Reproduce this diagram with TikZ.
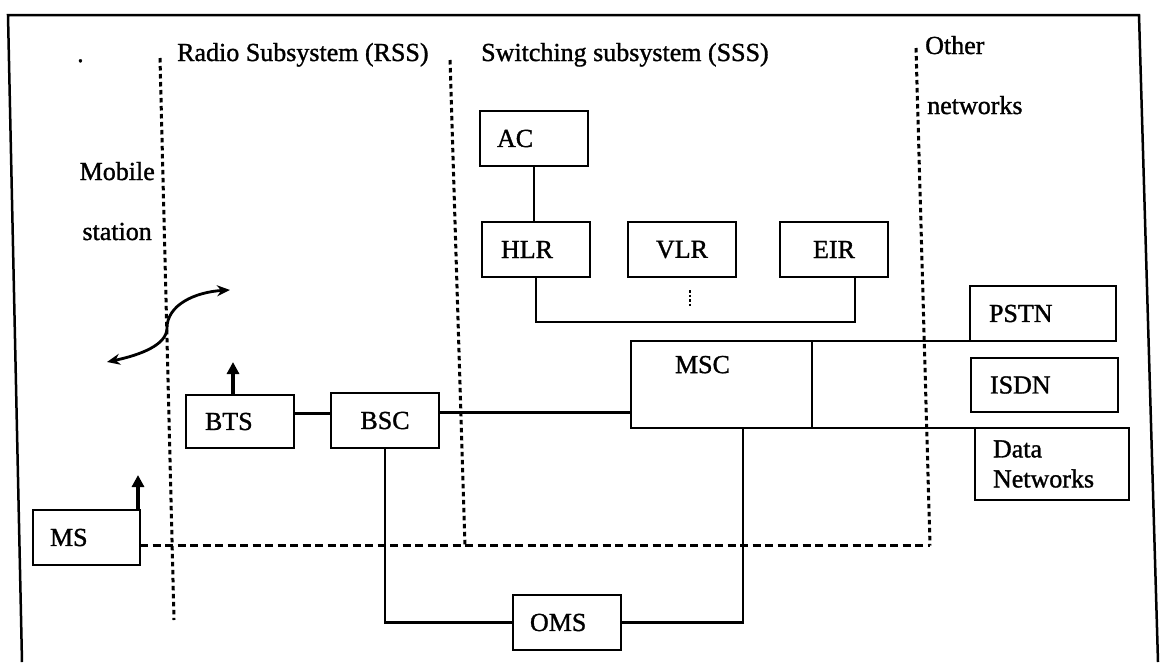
\documentclass[tikz,border=0pt]{standalone}
\usepackage{fontspec}
\setmainfont{Liberation Serif}[FakeBold=1.2]
\usetikzlibrary{arrows.meta,calc}
\tikzset{
  framel/.style={line width=2.5pt},
  sepline/.style={line width=3pt, dash pattern=on 4.5pt off 3.5pt},
  wire/.style={line width=2.4pt},
  link/.style={line width=2.6pt, dash pattern=on 8pt off 4.5pt},
  box/.style={draw, line width=2.5pt, inner ysep=0pt, outer sep=0pt, minimum height=55pt},
  cbox/.style={box, inner xsep=0pt, minimum width=108pt, align=center},
  txt/.style={inner sep=0pt, anchor=base west},
  rtxt/.style={inner sep=0pt, anchor=base east},
  ant/.style={line width=3.6pt, -{Triangle[width=12pt,length=12pt]}},
  radio/.style={line width=2.8pt, {Stealth[length=13pt,width=11pt]}-{Stealth[length=13pt,width=11pt]}},
}
\begin{document}
\begin{tikzpicture}[x=1pt,y=-1pt,font=\fontsize{26}{30}\selectfont]
\useasboundingbox (0,0) rectangle (1162,662);
% outer frame
\coordinate (fbl) at (22,662);
\coordinate (ftl) at (8,15);
\coordinate (ftr) at (1139,15);
\coordinate (fbr) at (1158,662);
\draw[framel] (fbl) -- (ftl) -- (ftr) -- (fbr);

% subsystem separators
\coordinate (d1t) at (160,58);  \coordinate (d1b) at (174,620);
\coordinate (d2t) at (450,60);  \coordinate (d2b) at (465,545.5);
\coordinate (d3t) at (916,48);  \coordinate (d3b) at (930,545.5);
\draw[sepline] (d1t) -- (d1b);
\draw[sepline] (d2t) -- (d2b);
\draw[sepline] (d3t) -- (d3b);

% headings
\node[txt] (dot) at (77,62) {.};
\node[txt] (rss) at (177,61) {Radio Subsystem (RSS)};
\node[txt] (sss) at (481,61) {Switching subsystem (SSS)};
\node[txt] (oth1) at (925,54) {Other};
\node[txt] (oth2) at (927,114) {networks};
\node[rtxt] (mob1) at (155,180) {Mobile};
\node[rtxt] (mob2) at (152,240) {station};

% switching subsystem boxes
\node[box, inner xsep=17pt, text width=74pt, align=left] (ac) at (534,138.5) {AC};
\node[box, inner xsep=19pt, text width=70pt, align=left] (hlr) at (536,249.5) {HLR};
\node[cbox] (vlr) at (682,249.5) {VLR};
\node[cbox] (eir) at (834,249.5) {EIR};
\node[box, inner xsep=44pt, text width=93pt, align=left, minimum height=87pt, text depth=40pt] (msc) at (721.5,384.5) {MSC};

% other networks
\node[box, inner xsep=19pt, text width=108pt, align=left] (pstn) at (1043,313.5) {PSTN};
\node[box, inner xsep=19pt, text width=109pt, align=left, minimum height=54pt] (isdn) at (1044.5,385) {ISDN};
\node[box, inner xsep=18pt, text width=118pt, align=left, minimum height=72pt] (dn) at (1052,464) {Data\\Networks};

% radio subsystem
\node[box, inner xsep=19pt, text width=70pt, align=left, minimum height=53pt] (bts) at (240,421.5) {BTS};
\node[cbox] (bsc) at (385,420.5) {BSC};
\node[box, inner xsep=17pt, text width=73pt, align=left] (ms) at (86.5,537.5) {MS};
\node[box, inner xsep=17pt, text width=74pt, align=left] (oms) at (567,622.5) {OMS};

% connectors
\draw[wire] (ac.south) -- (ac.south |- hlr.north);
\coordinate (eirc) at ([xshift=21pt]eir.south);
\draw[wire] (hlr.south) -- ++(0,45) -| (eirc);
\coordinate (vmark1) at (690,290);
\coordinate (vmark2) at (690,307);
\draw[line width=1.8pt, dash pattern=on 2.5pt off 2pt] (vmark1) -- (vmark2);

\coordinate (l1) at ([yshift=8pt]bts.east);
\draw[wire] (l1) -- (l1 -| bsc.west);
\coordinate (l2) at ([yshift=8pt]bsc.east);
\draw[wire] (l2) -- (l2 -| msc.west);
\draw[wire] (msc.north east) -- (pstn.south west);
\draw[wire] (msc.south east) -- (dn.north west);
\draw[wire] (bsc.south) |- (oms.west);
\coordinate (mscb) at ([xshift=112pt]msc.south west);
\draw[wire] (oms.east) -| (mscb);

% dashed signalling link
\coordinate (msd) at ([yshift=-8pt]ms.east);
\draw[link] (msd) -- (d3b);

% antennas
\coordinate (btsant) at ([xshift=-7pt]bts.north);
\coordinate (btstip) at ([yshift=33pt]btsant);
\draw[ant] (btsant) -- (btstip);
\coordinate (msant) at ([xshift=-2pt]ms.north east);
\coordinate (mstip) at ([yshift=35pt]msant);
\draw[ant] (msant) -- (mstip);

% radio interface
\coordinate (r1) at (107,362);
\coordinate (r2) at (230,290);
\draw[radio] (r1) .. controls (140,355) and (167,345) .. (167,328) .. controls (167,305) and (195,292) .. (r2);
\end{tikzpicture}
\end{document}
